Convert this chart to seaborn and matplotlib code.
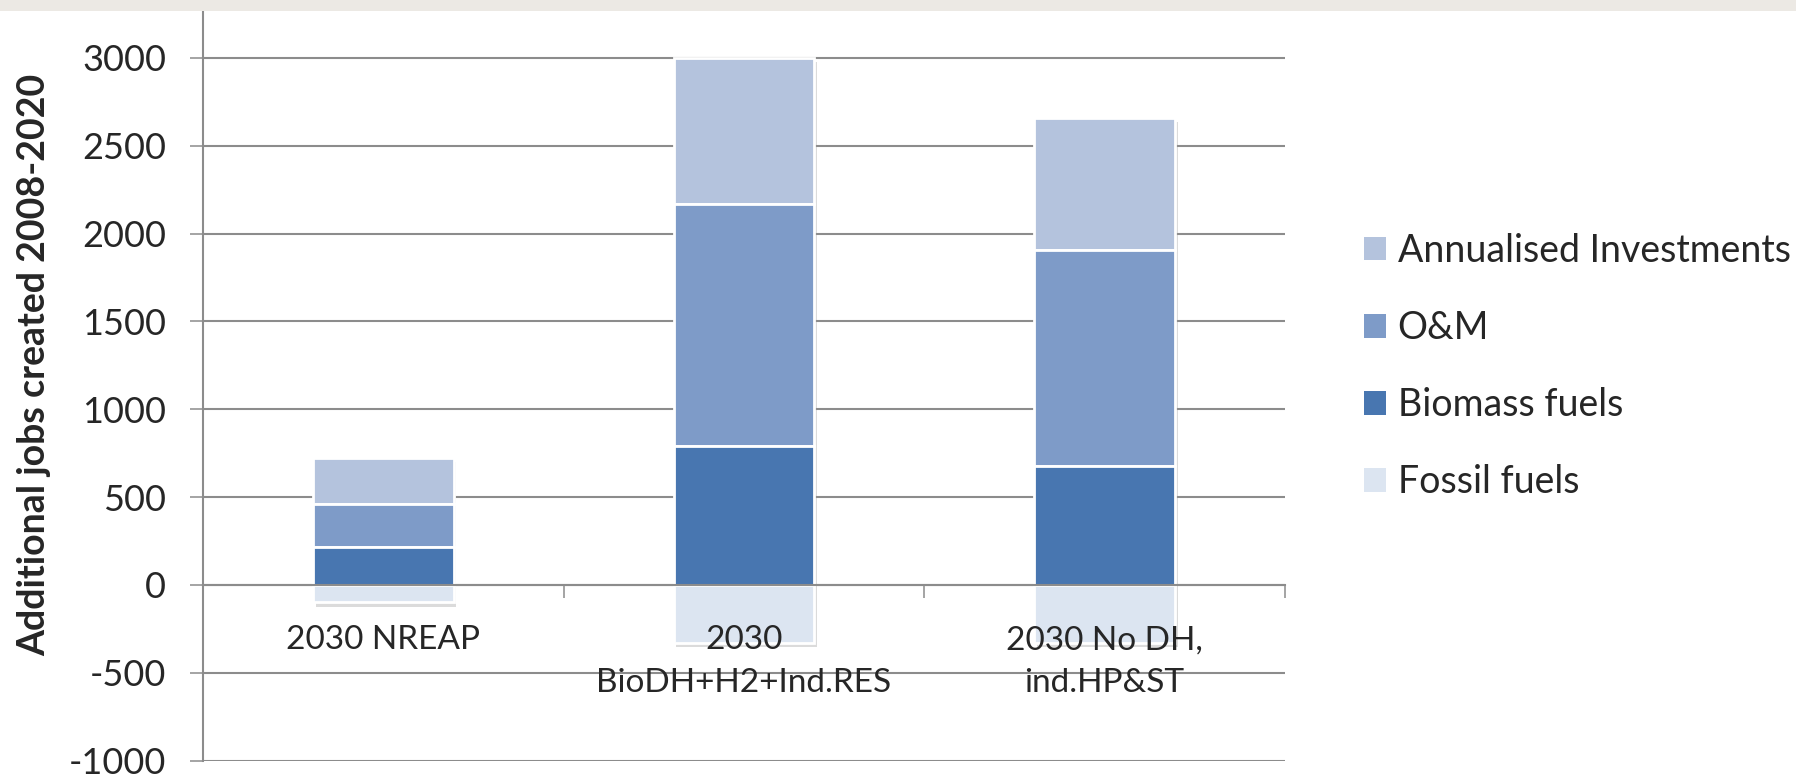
import matplotlib
matplotlib.use("Agg")
import matplotlib.pyplot as plt
import matplotlib.patheffects as pe
from matplotlib.patches import Rectangle
import pandas as pd
import seaborn as sns

categories = ["2030 NREAP", "2030\nBioDH+H2+Ind.RES", "2030 No DH,\nind.HP&ST"]
fossil = [-100, -330, -330]
biomass = [218, 790, 676]
om = [241, 1380, 1231]
invest = [262, 830, 752]
series_names = ["Annualised Investments", "O&M", "Biomass fuels", "Fossil fuels"]
colors = ["#B4C3DD", "#7E9BC8", "#4876B0", "#DCE5F1"]
yticks = [-1000, -500, 0, 500, 1000, 1500, 2000, 2500, 3000]

sns.set_theme(style="white")
plt.rcParams["font.family"] = ["Lato", "DejaVu Sans"]
plt.rcParams["axes.unicode_minus"] = False

df = pd.DataFrame({"cat": categories, "fossil": fossil, "biomass": biomass,
                   "om": om, "invest": invest})
df["om_bottom"] = df["biomass"]
df["inv_bottom"] = df["biomass"] + df["om"]

fig = plt.figure(figsize=(17.96, 7.75), dpi=100)
ax = fig.add_axes([0.113, 0.0187, 0.6024, 0.9671])

# grey strip on top of the screenshot
fig.patches.append(Rectangle((0, 1 - 11 / 775), 1, 11 / 775, transform=fig.transFigure,
                             facecolor="#ECE9E4", edgecolor="none"))

shadow = [pe.SimplePatchShadow(offset=(2, -3), shadow_rgbFace="#9a9a9a", alpha=0.35), pe.Normal()]
layers = [("invest", "inv_bottom"), ("om", "om_bottom"), ("biomass", None), ("fossil", None)]
for (col, bot), c in zip(layers, colors):
    sns.barplot(data=df, x="cat", y=col, bottom=df[bot].values if bot else 0,
                color=c, saturation=1, width=0.39, errorbar=None,
                edgecolor="white", linewidth=2, path_effects=shadow, ax=ax)

ax.set_xlim(-0.5, 2.5)
ax.set_ylim(-1000, 3267)
ax.set_yticks(yticks)
ax.yaxis.grid(True, color="#8C8C8C", linewidth=1.5)
ax.set_axisbelow(True)
ax.xaxis.set_zorder(3)  # category names sit on top of the bars
for s in ["top", "right"]:
    ax.spines[s].set_visible(False)
ax.spines["left"].set_color("#8C8C8C")
ax.spines["left"].set_linewidth(1.5)
ax.spines["bottom"].set_position(("data", 0))
ax.spines["bottom"].set_color("#8C8C8C")
ax.spines["bottom"].set_linewidth(1.5)

ax.tick_params(axis="y", left=True, length=9.4, width=1.1, color="#8C8C8C",
               pad=17, labelsize=26, labelcolor="#262626")
ax.set_xticks(range(len(categories)))
ax.set_xticklabels(categories, linespacing=1.55)
ax.set_xticks([-0.5, 0.5, 1.5, 2.5], minor=True)
ax.tick_params(axis="x", which="major", bottom=False, length=0, pad=29,
               labelsize=24, labelcolor="#262626")
ax.tick_params(axis="x", which="minor", bottom=True, length=9.4, width=1.1, color="#8C8C8C")

ax.set_xlabel("")
ax.set_ylabel("Additional jobs created 2008-2020", fontsize=27, fontweight="bold", color="#262626")
ax.yaxis.set_label_coords(-0.140, 0.528)

handles = [Rectangle((0, 0), 1, 1, facecolor=c, edgecolor="none") for c in colors]
ax.legend(handles, series_names, loc="center left", bbox_to_anchor=(1345 / 1796, 0.527),
          bbox_transform=fig.transFigure, frameon=False, fontsize=27, borderpad=0,
          handlelength=0.6, handleheight=0.6, handletextpad=0.3, labelspacing=1.1,
          labelcolor="#262626")

fig.savefig("out.png", dpi=100)
